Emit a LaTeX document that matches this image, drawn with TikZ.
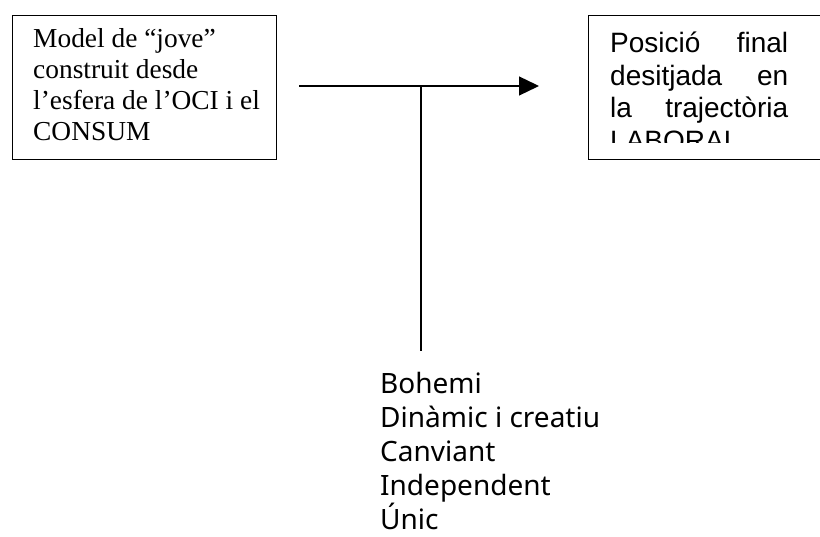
\documentclass[tikz,border=0pt]{standalone}
\usepackage{fontspec}
\setmainfont{Liberation Serif}
\newfontfamily\arialf{Liberation Sans}
\newfontfamily\listf{Noto Sans}
\usetikzlibrary{arrows.meta}
\begin{document}
\begin{tikzpicture}[x=1pt,y=-1pt,
  box/.style={draw,line width=1.4pt,inner sep=0pt,anchor=north west},
  conn/.style={line width=1.3pt},
  lefttext/.style={inner sep=0pt,anchor=base west,align=left,font=\fontsize{27.4}{31}\selectfont},
  righttext/.style={inner sep=0pt,anchor=base west,text width=178pt,align=left,font=\arialf\fontsize{28}{32.5}\selectfont},
  listtext/.style={inner sep=0pt,anchor=base west,align=left,font=\listf\fontsize{28}{34}\selectfont}]
\useasboundingbox (0,0) rectangle (820,537);
\clip (0,0) rectangle (820,537);
\node[box,minimum width=264pt,minimum height=144pt] (leftbox) at (12,15) {};
\node[box,minimum width=250pt,minimum height=144pt] (rightbox) at (588,15) {};
% base anchor of a multi-line node without text width = baseline of its last line
\node[lefttext] (lt) at (33,141) {Model de “jove”\\construit desde\\l’esfera de l’OCI i el\\CONSUM};
\begin{scope}
\clip (588,15) rectangle (840,143);
\node[righttext] (rt) at (610,53) {Posició\hfill final\\desitjada\hfill en\\la\hfill trajectòria\\LABORAL};
\end{scope}
\coordinate (as) at (299,86);
\coordinate (ae) at (539,86);
\coordinate (vt) at (421,86);
\coordinate (vb) at (421,351);
\draw[conn,-{Triangle[length=20pt,width=19pt]}] (as) -- (ae);
\draw[conn] (vt) -- (vb);
\node[listtext] (list) at (380,529) {Bohemi\\Dinàmic i creatiu\\Canviant\\Independent\\Únic};
\end{tikzpicture}
\end{document}
